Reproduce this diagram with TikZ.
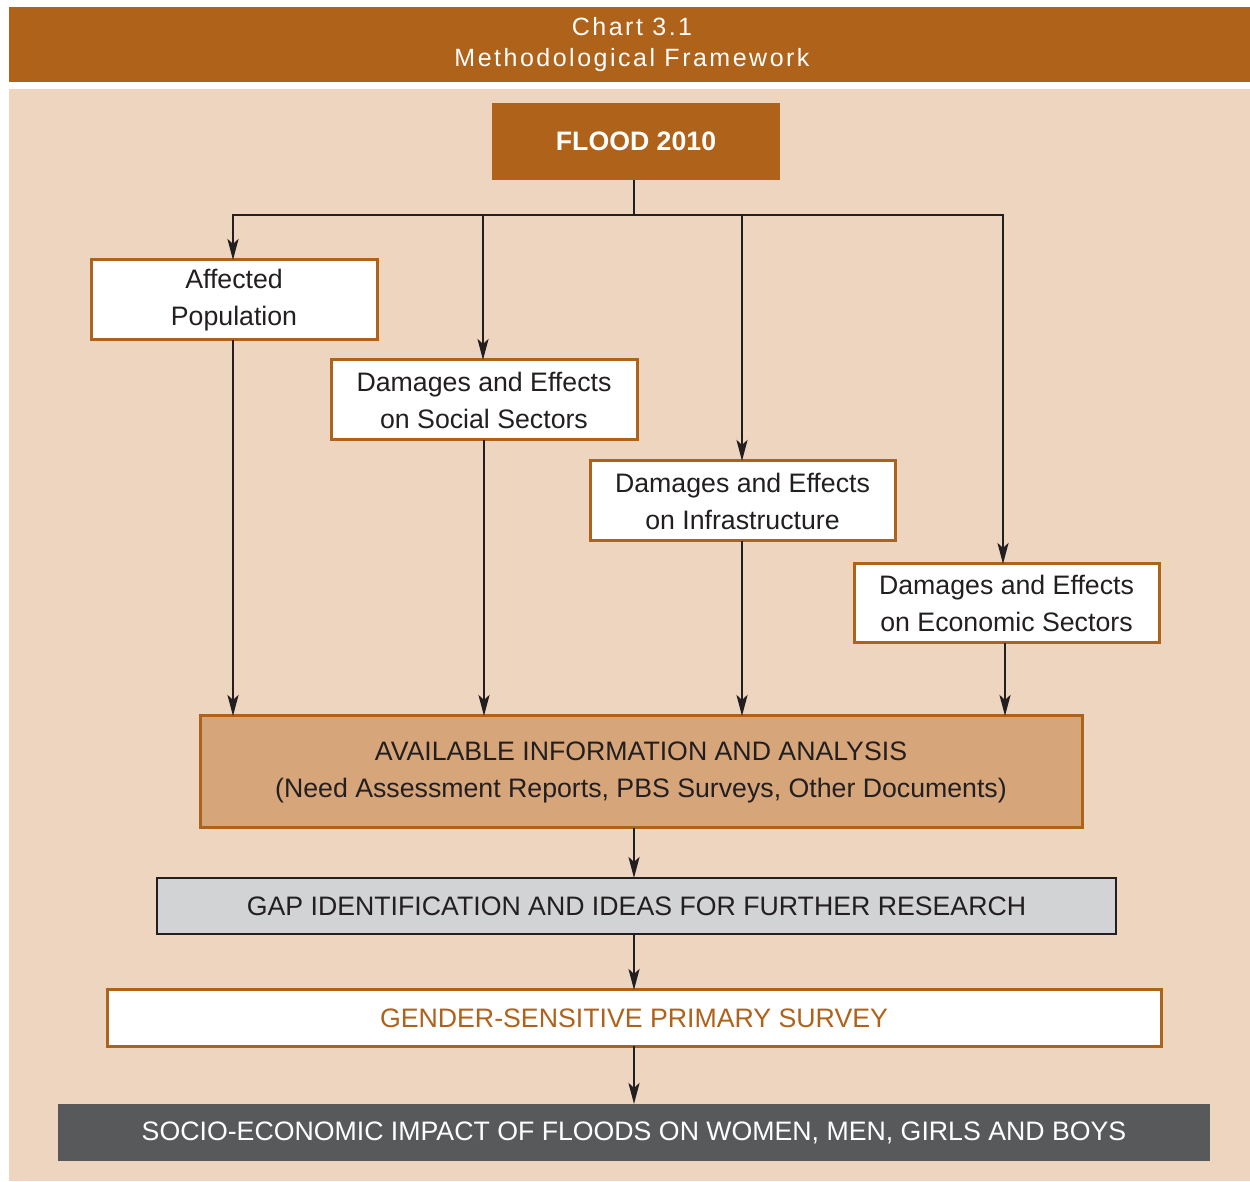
\documentclass[tikz,border=0pt]{standalone}
\usepackage{fontspec}
\setmainfont{Liberation Sans}
\newfontfamily\titlefont[LetterSpace=10]{Liberation Sans}
\usetikzlibrary{arrows.meta}
\definecolor{brown}{HTML}{AF621A}
\definecolor{panel}{HTML}{EDD5BF}
\definecolor{availfill}{HTML}{D6A57A}
\definecolor{gapfill}{HTML}{D1D3D4}
\definecolor{darkbox}{HTML}{58595B}
\definecolor{ink}{HTML}{231F20}
\tikzset{
  x=1pt, y=1pt,
  every node/.style={inner sep=0pt, outer sep=0pt, align=center},
  bodytext/.style={font=\fontsize{26.7}{37}\selectfont},
  whitebox/.style={draw=brown, line width=3pt, fill=white, text=ink, bodytext},
  arr/.style={draw=ink, line width=2.6pt, -{Stealth[length=21pt,width=11pt,inset=5pt]}},
  ln/.style={draw=ink, line width=2.6pt},
}
\begin{document}
\begin{tikzpicture}
\useasboundingbox (0,0) rectangle (1250,1181);
% title bar
\node[fill=brown, minimum width=1241pt, minimum height=75pt] (titlebar) at (629.5,1136.5) {};
\node[text=white, font=\titlefont\fontsize{25}{31}\selectfont] (title) at (632,1136) {Chart 3.1\\Methodological Framework};
% panel
\node[fill=panel, minimum width=1241pt, minimum height=1092pt, anchor=south west] (panel) at (9,0) {};
% flood
\node[fill=brown, text=white, minimum width=288pt, minimum height=77pt, font=\bfseries\fontsize{26.7}{31}\selectfont] (flood) at (636,1039.5) {FLOOD 2010};
% level 2 boxes
\node[whitebox, minimum width=286pt, minimum height=80pt] (aff) at (234,881) {Affected\\Population};
\node[whitebox, minimum width=306pt, minimum height=80pt] (soc) at (484,781) {Damages and Effects\\on Social Sectors};
\node[whitebox, minimum width=305pt, minimum height=80pt] (inf) at (742.5,680) {Damages and Effects\\on Infrastructure};
\node[whitebox, minimum width=305pt, minimum height=79pt] (eco) at (1006.5,577.5) {Damages and Effects\\on Economic Sectors};
% available
\node[draw=brown, line width=3pt, fill=availfill, text=ink, bodytext, minimum width=882pt, minimum height=112pt] (avail) at (641,409) {AVAILABLE INFORMATION AND ANALYSIS\\(Need Assessment Reports, PBS Surveys, Other Documents)};
% gap
\node[draw=ink, line width=2.5pt, fill=gapfill, text=ink, bodytext, minimum width=959pt, minimum height=56pt] (gap) at (636.5,275) {GAP IDENTIFICATION AND IDEAS FOR FURTHER RESEARCH};
% gender
\node[draw=brown, line width=3pt, fill=white, text=brown, bodytext, minimum width=1054pt, minimum height=56pt] (gender) at (634,163) {GENDER-SENSITIVE PRIMARY SURVEY};
% socio
\node[fill=darkbox, text=white, bodytext, minimum width=1152pt, minimum height=57pt] (socio) at (634,48.5) {SOCIO-ECONOMIC IMPACT OF FLOODS ON WOMEN, MEN, GIRLS AND BOYS};
% connectors
\coordinate (hub) at (634,966);
\coordinate (b1) at (233,966);
\coordinate (b2) at (483,966);
\coordinate (b3) at (742,966);
\coordinate (b4) at (1003,966);
\draw[ln] (flood.south -| hub) -- (hub);
\draw[ln, line cap=rect] (b1) -- (b4);
\draw[arr] (b1) -- (b1 |- aff.north);
\draw[arr] (b2) -- (b2 |- soc.north);
\draw[arr] (b3) -- (b3 |- inf.north);
\draw[arr] (b4) -- (b4 |- eco.north);
\coordinate (d1) at (233,0);
\coordinate (d2) at (484,0);
\coordinate (d3) at (742,0);
\coordinate (d4) at (1005,0);
\draw[arr] (d1 |- aff.south) -- (d1 |- avail.north);
\draw[arr] (d2 |- soc.south) -- (d2 |- avail.north);
\draw[arr] (d3 |- inf.south) -- (d3 |- avail.north);
\draw[arr] (d4 |- eco.south) -- (d4 |- avail.north);
\coordinate (c) at (634,0);
\draw[arr] (c |- avail.south) -- (c |- gap.north);
\draw[arr] (c |- gap.south) -- (c |- gender.north);
\draw[arr] (c |- gender.south) -- (c |- socio.north);
\end{tikzpicture}
\end{document}
